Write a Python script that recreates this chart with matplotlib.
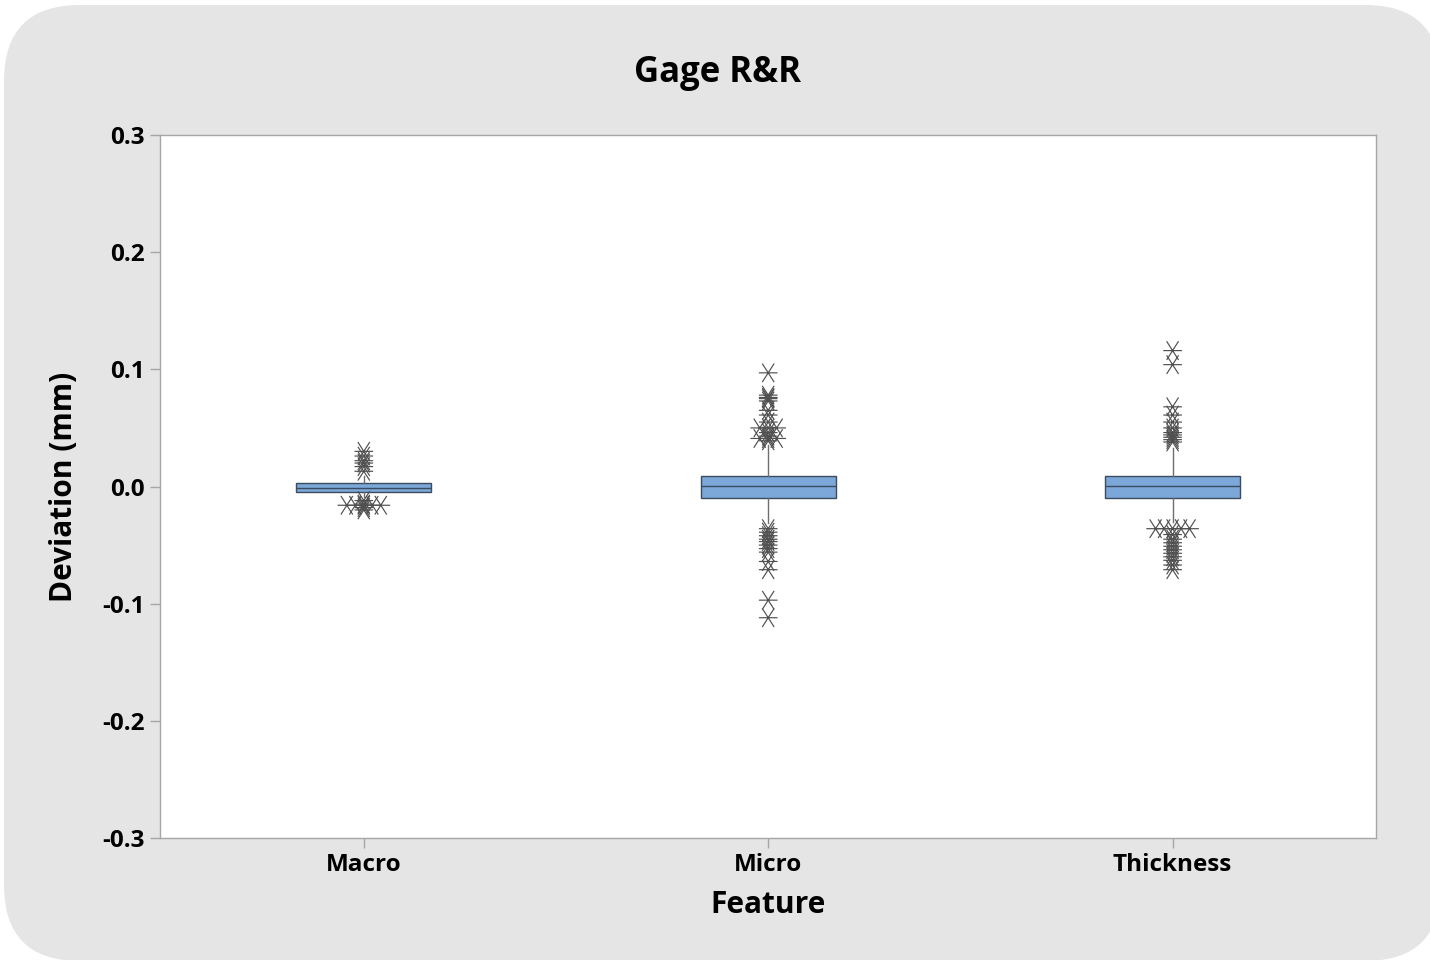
import numpy as np
import matplotlib
matplotlib.use("Agg")
import matplotlib.pyplot as plt
from matplotlib.patches import FancyBboxPatch
from matplotlib.path import Path
from matplotlib.transforms import IdentityTransform

# ---- data -------------------------------------------------------------
features = ["Macro", "Micro", "Thickness"]

q1 = [-0.0047, -0.0100, -0.0100]
median = [-0.0012, 0.0004, 0.0003]
q3 = [0.0026, 0.0090, 0.0090]
whisker_low = [-0.0090, -0.0310, -0.0300]
whisker_high = [0.0090, 0.0350, 0.0330]

outliers_macro = [0.030, 0.026, 0.022, 0.020, 0.017, 0.013,
                  -0.012, -0.015, -0.016, -0.016, -0.016, -0.016, -0.016, -0.018, -0.020]
outliers_micro = [0.097, 0.078, 0.076, 0.075, 0.073, 0.065, 0.061, 0.055,
                  0.050, 0.050, 0.050, 0.046, 0.043,
                  0.041, 0.041, 0.041, 0.039,
                  -0.036, -0.039, -0.042, -0.045, -0.047, -0.050, -0.053, -0.056,
                  -0.064, -0.071, -0.097, -0.112]
outliers_thick = [0.116, 0.104, 0.068, 0.061, 0.055, 0.050, 0.046, 0.044,
                  0.042, 0.040, 0.038,
                  -0.036, -0.036, -0.036, -0.036, -0.036,
                  -0.041, -0.045, -0.048, -0.051, -0.054, -0.057, -0.060, -0.063, -0.067, -0.071]
outliers = [outliers_macro, outliers_micro, outliers_thick]

yticks = [-0.3, -0.2, -0.1, 0.0, 0.1, 0.2, 0.3]

# ---- style ------------------------------------------------------------
FONT = "Open Sans"
BOX_FILL = "#7ba7d9"
BOX_EDGE = "#3d4b5e"
WHISK = "#6e6e6e"
FRAME = "#a6a6a6"
MARK = "#505050"

# asterisk marker: horizontal bar plus two steep diagonals
star_path = Path(
    [(-0.5, 0.0), (0.5, 0.0), (-0.32, -0.5), (0.32, 0.5), (-0.32, 0.5), (0.32, -0.5)],
    [Path.MOVETO, Path.LINETO, Path.MOVETO, Path.LINETO, Path.MOVETO, Path.LINETO],
)

fig = plt.figure(figsize=(14.3, 9.6), dpi=100, facecolor="white")

# rounded grey backdrop
panel = FancyBboxPatch((4, -1), 1437, 956,
                       boxstyle="round,pad=0,rounding_size=76",
                       transform=IdentityTransform(),
                       facecolor="#e5e5e5", edgecolor="none", zorder=-10)
fig.patches.append(panel)

ax = fig.add_axes([160 / 1430, 1 - 838 / 960, 1216 / 1430, 703 / 960])
ax.set_zorder(1)
ax.set_facecolor("white")

positions = np.arange(1, len(features) + 1)
stats = []
for i, name in enumerate(features):
    stats.append(dict(label=name, med=median[i], q1=q1[i], q3=q3[i],
                      whislo=whisker_low[i], whishi=whisker_high[i], fliers=[]))

ax.bxp(stats, positions=positions, widths=0.333, showcaps=False, patch_artist=True,
       boxprops=dict(facecolor=BOX_FILL, edgecolor=BOX_EDGE, linewidth=1.0),
       medianprops=dict(color=BOX_EDGE, linewidth=1.0),
       whiskerprops=dict(color=WHISK, linewidth=1.0),
       zorder=2)

# outliers; repeated values are spread side by side
step = 0.021
for pos, vals in zip(positions, outliers):
    vals = np.asarray(vals)
    xs = np.empty_like(vals)
    for v in np.unique(vals):
        idx = np.where(vals == v)[0]
        k = len(idx)
        xs[idx] = pos + (np.arange(k) - (k - 1) / 2) * step
    ax.scatter(xs, vals, marker=star_path, s=180, facecolors="none",
               edgecolors=MARK, linewidths=0.85, zorder=3)

ax.set_xlim(0.496, 3.503)
ax.set_ylim(-0.3, 0.3)
ax.set_xticks(positions)
ax.set_xticklabels(features)
ax.set_yticks(yticks)
ax.set_yticklabels([f"{t:.1f}" for t in yticks])

for s in ax.spines.values():
    s.set_color(FRAME)
    s.set_linewidth(1.0)
ax.tick_params(axis="both", direction="out", length=7, width=1.0, color=FRAME,
               labelsize=17.5, labelcolor="black", pad=4)
for lbl in ax.get_xticklabels() + ax.get_yticklabels():
    lbl.set_fontfamily(FONT)
    lbl.set_fontweight("bold")

ax.set_xlabel("Feature", fontsize=21.5, fontfamily=FONT, fontweight="bold", labelpad=9)
ax.set_ylabel("Deviation (mm)", fontsize=21.5, fontfamily=FONT, fontweight="bold", labelpad=17)
fig.text(718 / 1430, 1 - 73 / 960, "Gage R&R", ha="center", va="center",
         fontsize=25, fontfamily=FONT, fontweight="bold")

fig.savefig("out.png", dpi=100, facecolor="white")
